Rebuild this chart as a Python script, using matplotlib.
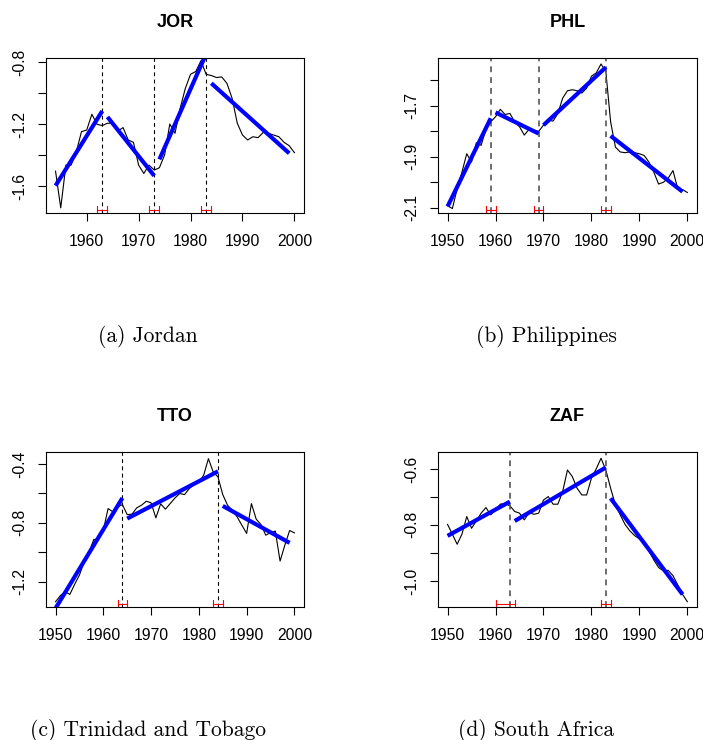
import matplotlib.pyplot as plt
import matplotlib.transforms as mtransforms
import numpy as np

# --- data ---
jor_years = np.arange(1954, 2001)
jor_vals = [-1.503, -1.740, -1.464, -1.464, -1.378, -1.248, -1.238, -1.136, -1.201, -1.209,
            -1.194, -1.194, -1.244, -1.222, -1.302, -1.317, -1.464, -1.518, -1.464, -1.496,
            -1.481, -1.399, -1.199, -1.259, -1.097, -0.968, -0.878, -0.860, -0.791, -0.878,
            -0.886, -0.899, -0.895, -0.936, -1.033, -1.194, -1.270, -1.302, -1.281, -1.287,
            -1.253, -1.259, -1.270, -1.281, -1.317, -1.339, -1.384]
jor_seg_x = [(1954, 1963), (1964, 1973), (1974, 1983), (1984, 1999)]
jor_seg_y = [(-1.597, -1.115), (-1.153, -1.533), (-1.427, -0.746), (-0.936, -1.388)]
jor_breaks = [1963, 1973, 1983]
jor_ci = [(1962, 1964), (1972, 1974), (1982, 1984)]

phl_years = np.arange(1950, 2001)
phl_vals = [-2.093, -2.104, -2.027, -1.961, -1.889, -1.922, -1.846, -1.856, -1.793, -1.764,
            -1.744, -1.715, -1.735, -1.731, -1.764, -1.783, -1.816, -1.793, -1.797, -1.801,
            -1.777, -1.757, -1.761, -1.731, -1.671, -1.642, -1.638, -1.642, -1.651, -1.632,
            -1.585, -1.572, -1.537, -1.566, -1.764, -1.863, -1.882, -1.885, -1.882, -1.885,
            -1.889, -1.896, -1.922, -1.961, -2.008, -2.001, -1.985, -1.955, -2.027, -2.030,
            -2.041]
phl_seg_x = [(1950, 1959), (1960, 1969), (1970, 1983), (1984, 1999)]
phl_seg_y = [(-2.096, -1.750), (-1.727, -1.810), (-1.777, -1.550), (-1.819, -2.038)]
phl_breaks = [1959, 1969, 1983]
phl_ci = [(1958, 1960), (1968, 1970), (1982, 1984)]

tto_years = np.arange(1950, 2001)
tto_vals = [-1.336, -1.295, -1.268, -1.286, -1.218, -1.155, -1.064, -1.001, -0.913, -0.911,
            -0.850, -0.703, -0.725, -0.692, -0.676, -0.744, -0.741, -0.698, -0.680, -0.653,
            -0.664, -0.766, -0.671, -0.707, -0.669, -0.631, -0.601, -0.608, -0.567, -0.540,
            -0.522, -0.477, -0.364, -0.454, -0.488, -0.608, -0.680, -0.714, -0.759, -0.816,
            -0.872, -0.669, -0.775, -0.811, -0.884, -0.866, -0.856, -1.060, -0.951, -0.852,
            -0.868]
tto_seg_x = [(1950, 1964), (1965, 1984), (1985, 1999)]
tto_seg_y = [(-1.381, -0.631), (-0.771, -0.450), (-0.685, -0.936)]
tto_breaks = [1964, 1984]
tto_ci = [(1963, 1965), (1983, 1985)]

zaf_years = np.arange(1950, 2001)
zaf_vals = [-0.798, -0.833, -0.869, -0.833, -0.770, -0.812, -0.786, -0.758, -0.738, -0.764,
            -0.746, -0.726, -0.723, -0.732, -0.752, -0.758, -0.782, -0.756, -0.762, -0.758,
            -0.711, -0.699, -0.726, -0.726, -0.681, -0.604, -0.627, -0.669, -0.693, -0.693,
            -0.633, -0.600, -0.562, -0.604, -0.669, -0.729, -0.764, -0.798, -0.821, -0.838,
            -0.850, -0.860, -0.893, -0.925, -0.952, -0.964, -0.962, -0.981, -1.014, -1.048,
            -1.074]
zaf_seg_x = [(1950, 1963), (1964, 1983), (1984, 1999)]
zaf_seg_y = [(-0.839, -0.717), (-0.786, -0.595), (-0.705, -1.048)]
zaf_breaks = [1963, 1983]
zaf_ci = [(1960, 1964), (1982, 1984)]

SANS = 'Liberation Sans'


def panel(ax, title, years, vals, seg_x, seg_y, breaks, ci, xlim, ylim,
          yticks, ylabels, xticks, dash_col, dash_lw):
    ax.plot(years, vals, color='black', lw=0.8)
    for b in breaks:
        ax.axvline(b, color=dash_col, lw=dash_lw, linestyle=(0, (3.5, 3)))
    for (x0, x1), (y0, y1) in zip(seg_x, seg_y):
        ax.plot([x0, x1], [y0, y1], color='#0000ff', lw=3, solid_capstyle='butt')
    trans = mtransforms.blended_transform_factory(ax.transData, ax.transAxes)
    for lo, hi in ci:
        ax.plot([lo, hi], [0.022, 0.022], color='red', lw=0.8, transform=trans)
        for xx in (lo, hi):
            ax.plot([xx, xx], [0.0, 0.045], color='red', lw=0.8, transform=trans)
    ax.set_xlim(*xlim)
    ax.set_ylim(*ylim)
    ax.set_xticks(xticks)
    ax.set_xticklabels([str(x) for x in xticks], fontfamily=SANS, fontsize=11.3)
    ax.set_yticks(yticks)
    ax.set_yticklabels(ylabels, fontfamily=SANS, fontsize=11.3, rotation=90, va='center')
    ax.tick_params(axis='x', length=5.5, width=0.8, pad=9.5, direction='out')
    ax.tick_params(axis='y', length=5.5, width=0.8, pad=8, direction='out')
    for s in ax.spines.values():
        s.set_linewidth(0.8)
    ax.set_title(title, fontfamily=SANS, fontweight='bold', fontsize=13, pad=22.5)


fig = plt.figure(figsize=(7.03, 7.40), dpi=100)
ax_a = fig.add_axes([0.0654, 0.712, 0.367, 0.2098])
ax_b = fig.add_axes([0.623, 0.712, 0.3684, 0.2098])
ax_c = fig.add_axes([0.0654, 0.1793, 0.367, 0.2098])
ax_d = fig.add_axes([0.623, 0.1793, 0.3684, 0.2098])

panel(ax_a, 'JOR', jor_years, jor_vals, jor_seg_x, jor_seg_y, jor_breaks, jor_ci,
      (1952.16, 2001.84), (-1.774, -0.772),
      [-0.8, -1.0, -1.2, -1.4, -1.6], ['-0.8', '', '-1.2', '', '-1.6'],
      [1960, 1970, 1980, 1990, 2000], 'black', 0.8)
panel(ax_b, 'PHL', phl_years, phl_vals, phl_seg_x, phl_seg_y, phl_breaks, phl_ci,
      (1948, 2002), (-2.122, -1.513),
      [-1.6, -1.7, -1.8, -1.9, -2.0, -2.1], ['', '-1.7', '', '-1.9', '', '-2.1'],
      [1950, 1960, 1970, 1980, 1990, 2000], '#555555', 1.2)
panel(ax_c, 'TTO', tto_years, tto_vals, tto_seg_x, tto_seg_y, tto_breaks, tto_ci,
      (1948, 2002), (-1.374, -0.319),
      [-0.4, -0.6, -0.8, -1.0, -1.2], ['-0.4', '', '-0.8', '', '-1.2'],
      [1950, 1960, 1970, 1980, 1990, 2000], 'black', 0.8)
panel(ax_d, 'ZAF', zaf_years, zaf_vals, zaf_seg_x, zaf_seg_y, zaf_breaks, zaf_ci,
      (1948, 2002), (-1.094, -0.540),
      [-0.6, -0.7, -0.8, -0.9, -1.0], ['-0.6', '', '-0.8', '', '-1.0'],
      [1950, 1960, 1970, 1980, 1990, 2000], '#555555', 1.2)

cap = dict(fontfamily='cmr10', fontsize=15.5, ha='center', va='center')
fig.text(148 / 703, 1 - 336 / 740, '(a) Jordan', **cap)
fig.text(546 / 703, 1 - 336 / 740, '(b) Philippines', **cap)
fig.text(148 / 703, 1 - 730 / 740, '(c) Trinidad and Tobago', **cap)
fig.text(536 / 703, 1 - 730 / 740, '(d) South Africa', **cap)

fig.savefig('out.png', dpi=100)
